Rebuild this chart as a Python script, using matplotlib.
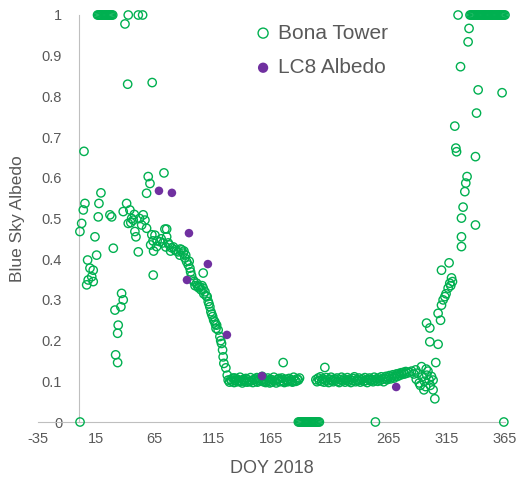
import matplotlib.pyplot as plt

# Bona Tower blue-sky albedo (DOY, albedo)
# winter / early spring
spring_doy = [1, 4.4, 0.9, 2.4, 3.8, 5.2, 13.8, 15.2, 16.6, 17.2, 18.9, 7.5, 9.5,
              12.3, 11, 8, 6.7, 12.3, 29.5, 26.6, 28.1, 36.6, 38, 36, 30.9, 33.7,
              33.2, 31.5, 33.2, 38, 40.9, 43.7, 46.6, 48, 50.9, 55.1, 56.6, 58,
              59.4, 60.9, 58, 63.7, 45.2, 53.8, 42.3, 48.9, 44.5, 47.5, 52,
              16, 17, 18, 19, 20, 21, 22, 23, 24, 25, 26, 27, 28, 29,
              39.5, 42.3, 50.9, 54.6, 41.8, 62.8, 72.9]
spring_alb = [0.0, 0.665, 0.468, 0.488, 0.521, 0.537, 0.455, 0.41, 0.504, 0.537, 0.563,
              0.398, 0.378, 0.373, 0.357, 0.349, 0.337, 0.345, 0.427, 0.509, 0.504,
              0.316, 0.3, 0.283, 0.275, 0.238, 0.218, 0.165, 0.146, 0.517, 0.537,
              0.521, 0.496, 0.468, 0.418, 0.509, 0.496, 0.476, 0.603, 0.586, 0.562,
              0.361, 0.5, 0.484, 0.488, 0.455, 0.49, 0.51, 0.5,
              1, 1, 1, 1, 1, 1, 1, 1, 1, 1, 1, 1, 1, 1,
              0.978, 1, 1, 1, 0.83, 0.834, 0.612]

# snowmelt
melt_doy = [65.2, 66.6, 69.4, 73.7, 75.2, 76.5, 79.5, 82.3, 85.1, 88.0, 89.4, 90.8,
            92.3, 93.7, 95.1, 95.7, 106.5, 97.9, 100.9, 103.7, 106.5, 108.0, 109.9,
            110.8, 112.2, 113.1, 114.6, 116.5, 118.0, 119.3, 120.8, 122.2, 123.1,
            123.6, 124.2, 125.9, 127.1, 127.9, 67, 70.5, 72, 74.5, 77.5, 78.5, 81,
            83.5, 86.5, 87, 90, 91.5, 94.5, 96.5, 98.5, 99.5, 101.5, 102.5, 104.5,
            105.5, 107, 109, 111.5, 113.8, 115.5, 117, 117.5, 121.5, 63.5, 64, 61.5,
            62.5, 75.2]
melt_alb = [0.459, 0.431, 0.443, 0.474, 0.455, 0.44, 0.428, 0.423, 0.418, 0.423, 0.415,
            0.403, 0.394, 0.386, 0.378, 0.369, 0.366, 0.349, 0.341, 0.332, 0.329, 0.32,
            0.308, 0.296, 0.283, 0.271, 0.259, 0.246, 0.238, 0.226, 0.21, 0.193, 0.177,
            0.16, 0.144, 0.133, 0.115, 0.103, 0.445, 0.45, 0.44, 0.43, 0.435, 0.42, 0.43,
            0.42, 0.41, 0.425, 0.42, 0.41, 0.395, 0.36, 0.345, 0.335, 0.335, 0.33, 0.325,
            0.335, 0.315, 0.31, 0.29, 0.265, 0.25, 0.24, 0.23, 0.2, 0.445, 0.42, 0.435,
            0.46, 0.474]

# snow-free summer, first part
summer1_doy = [129, 130, 131, 132, 133, 134, 135, 136, 137, 138, 139, 140, 141, 142,
               143, 144, 145, 146, 147, 148, 149, 150, 151, 152, 153, 154, 155, 156,
               157, 158, 159, 160, 161, 162, 163, 164, 165, 166, 167, 168, 169, 170,
               171, 172, 173, 174, 175, 176, 177, 178, 179, 180, 181, 182, 183, 184,
               185, 186, 187, 188, 189, 175, 133.5, 141.5, 152.5, 163.5, 171.5, 182.5]
summer1_alb = [0.098, 0.104, 0.1, 0.108, 0.097, 0.102, 0.106, 0.099, 0.103, 0.11, 0.1,
               0.096, 0.105, 0.101, 0.107, 0.098, 0.103, 0.099, 0.109, 0.102, 0.097,
               0.104, 0.106, 0.1, 0.098, 0.103, 0.107, 0.101, 0.112, 0.099, 0.104,
               0.097, 0.102, 0.108, 0.1, 0.105, 0.098, 0.103, 0.11, 0.101, 0.096,
               0.104, 0.106, 0.099, 0.102, 0.108, 0.1, 0.097, 0.105, 0.103, 0.099,
               0.107, 0.101, 0.104, 0.098, 0.11, 0.102, 0.1, 0.106, 0.103, 0.108,
               0.146, 0.108, 0.101, 0.109, 0.096, 0.107, 0.1]

# snow-free summer, second part
summer2_doy = [203, 204, 205, 206, 207, 208, 209, 210, 210.7, 211, 212, 213, 214, 215,
               216, 217, 218, 219, 220, 221, 222, 223, 224, 225, 226, 227, 228, 229,
               230, 231, 232, 233, 234, 235, 236, 237, 238, 239, 240, 241, 242, 243,
               244, 245, 246, 247, 248, 249, 250, 251, 252, 253, 254, 255, 256, 257,
               258, 259, 260, 261, 262, 263, 264, 265, 266, 267, 268, 269, 270, 271,
               272, 273, 274, 275, 276, 277, 278, 279, 280, 281]
summer2_alb = [0.104, 0.099, 0.108, 0.102, 0.111, 0.1, 0.106, 0.098, 0.134, 0.103, 0.109,
               0.101, 0.097, 0.105, 0.11, 0.102, 0.099, 0.106, 0.103, 0.108, 0.1,
               0.097, 0.104, 0.11, 0.101, 0.106, 0.098, 0.103, 0.109, 0.1, 0.105,
               0.097, 0.102, 0.107, 0.111, 0.099, 0.104, 0.101, 0.108, 0.098, 0.103,
               0.106, 0.1, 0.109, 0.102, 0.097, 0.105, 0.108, 0.101, 0.104, 0.099,
               0.11, 0.103, 0.106, 0.1, 0.108, 0.102, 0.111, 0.105, 0.099, 0.107,
               0.112, 0.104, 0.109, 0.114, 0.106, 0.111, 0.116, 0.108, 0.113, 0.118,
               0.112, 0.119, 0.115, 0.121, 0.117, 0.122, 0.118, 0.124, 0.12]

# autumn and snow onset
autumn_doy = [288.5, 290, 291.5, 293.5, 294, 295.5, 296, 297, 298, 299, 300, 301, 302,
              303.4, 303.4, 304.9, 287, 285, 283, 289, 292.5, 297.5,
              297.8, 300.6, 300.6, 305.7, 307.7, 307.7, 309.8, 310.6, 313.5, 316.3,
              317.7, 319.2, 310.6, 317.1, 327.7, 327.7, 339.7, 327.7, 329.1, 330.6,
              331.4, 332.5, 339.7, 323.5, 322.9, 322, 340.6, 342, 362.5, 326.9, 333.4,
              334.2, 324.8, 314.5, 318.5, 320, 312,
              335, 336, 337, 338, 339, 340, 341, 342, 343, 344, 345, 346, 347, 348,
              349, 350, 351, 352, 353, 354, 355, 356, 357, 358, 359, 360, 361, 362,
              363, 364, 365]
autumn_alb = [0.128, 0.12, 0.096, 0.136, 0.111, 0.079, 0.1, 0.087, 0.115, 0.125, 0.103,
              0.09, 0.112, 0.103, 0.079, 0.057, 0.118, 0.125, 0.122, 0.105, 0.09, 0.13,
              0.243, 0.231, 0.197, 0.146, 0.191, 0.267, 0.25, 0.287, 0.308, 0.329,
              0.341, 0.354, 0.373, 0.391, 0.431, 0.455, 0.484, 0.501, 0.528, 0.566,
              0.587, 0.603, 0.652, 0.664, 0.673, 0.727, 0.759, 0.816, 0.809, 0.873,
              0.934, 0.967, 1.0, 0.315, 0.335, 0.345, 0.3,
              1, 1, 1, 1, 1, 1, 1, 1, 1, 1, 1, 1, 1, 1, 1, 1, 1, 1, 1, 1, 1, 1, 1,
              1, 1, 1, 1, 1, 1, 1, 1]

# days with zero (missing) albedo
zero_doy = [188, 189, 190, 191, 192, 193, 194, 195, 196, 197, 198, 199, 200, 201,
            202, 203, 204, 205, 206, 254, 364]
zero_alb = [0] * len(zero_doy)

# Landsat 8 albedo
lc8_doy = [68.6, 79.7, 94.3, 92.6, 110.5, 126.8, 156.9, 271.8]
lc8_alb = [0.568, 0.563, 0.464, 0.349, 0.388, 0.214, 0.113, 0.086]

tower_doy = spring_doy + melt_doy + summer1_doy + summer2_doy + autumn_doy + zero_doy
tower_alb = spring_alb + melt_alb + summer1_alb + summer2_alb + autumn_alb + zero_alb

green = '#00b050'
purple = '#7030a0'
grey_text = '#595959'
axis_grey = '#bfbfbf'

plt.rcParams['font.family'] = ['Liberation Sans', 'DejaVu Sans']
plt.rcParams['axes.unicode_minus'] = False

fig = plt.figure(figsize=(5.16, 4.82), dpi=100)
ax = fig.add_axes([38 / 516, 60 / 482, 467 / 516, 407 / 482])

ax.scatter(tower_doy, tower_alb, s=36, facecolors='none', edgecolors=green,
           linewidths=1.0, label='Bona Tower', clip_on=False, zorder=3)
ax.scatter(lc8_doy, lc8_alb, s=38, color=purple, edgecolors='none',
           label='LC8 Albedo', clip_on=False, zorder=4)

ax.set_xlim(-35, 365)
ax.set_ylim(0, 1)
ax.set_xticks(range(-35, 366, 50))
ax.set_yticks([i / 10 for i in range(11)])
ax.set_yticklabels(['0', '0.1', '0.2', '0.3', '0.4', '0.5', '0.6', '0.7', '0.8', '0.9', '1'])

# Excel-like axes: vertical axis crosses at x = 0, horizontal at y = 0
for side in ['top', 'right']:
    ax.spines[side].set_visible(False)
ax.spines['left'].set_position(('data', 0))
ax.spines['left'].set_color(axis_grey)
ax.spines['bottom'].set_color(axis_grey)
ax.tick_params(length=0, labelsize=10.5, colors=grey_text)
ax.tick_params(axis='y', pad=12)
ax.tick_params(axis='x', pad=7)
for lbl in ax.get_yticklabels():
    lbl.set_bbox(dict(facecolor='white', edgecolor='none', pad=1))

ax.set_xlabel('DOY 2018', fontsize=13, color=grey_text, labelpad=10)
ax.set_ylabel('Blue Sky Albedo', fontsize=12.5, color=grey_text)
ax.yaxis.set_label_coords(-0.028, 0.5)

ax.legend(loc='upper left', bbox_to_anchor=(0.424, 1.025), frameon=False,
          fontsize=15, handlelength=0.8, handletextpad=0.3, labelspacing=0.75,
          labelcolor=grey_text, markerscale=1.2)

plt.savefig('out.png', dpi=100)
